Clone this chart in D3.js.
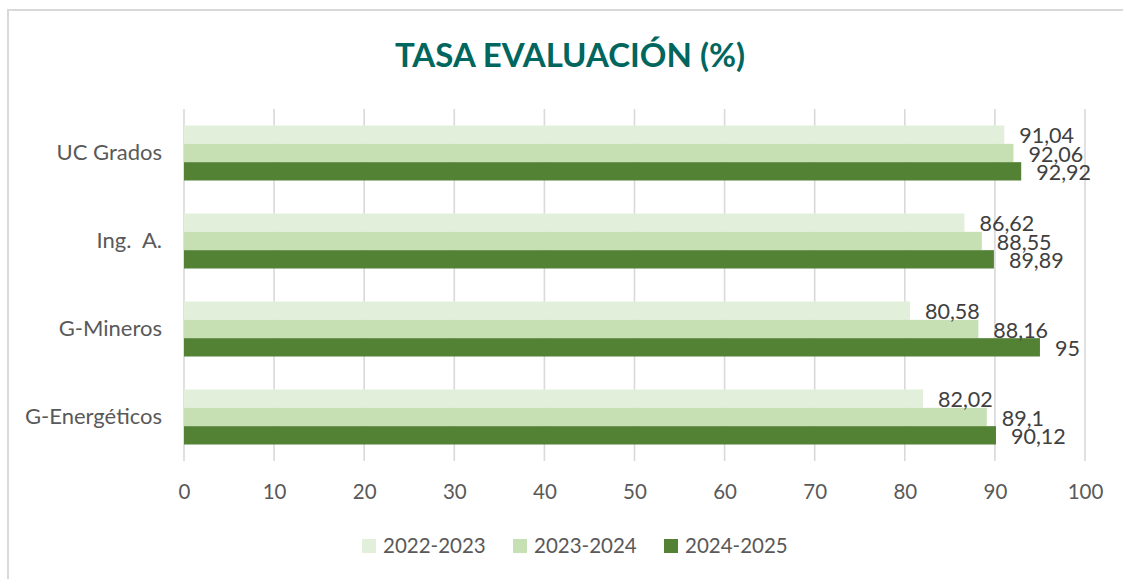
<!DOCTYPE html>
<html><head><meta charset="utf-8">
<script src="https://cdn.jsdelivr.net/npm/d3@7"></script>
<style>body{margin:0;background:#fff}svg{display:block}text{font-family:Lato,"Open Sans",sans-serif}</style>
</head><body><svg id="c" width="1123" height="579"></svg>
<script>
const categories = ["UC Grados", "Ing.  A.", "G-Mineros", "G-Energéticos"];
const seriesNames = ["2022-2023", "2023-2024", "2024-2025"];
const s2022 = [91.04, 86.62, 80.58, 82.02];
const s2023 = [92.06, 88.55, 88.16, 89.1];
const s2024 = [92.92, 89.89, 95, 90.12];
const xTicks = [0, 10, 20, 30, 40, 50, 60, 70, 80, 90, 100];
const colors = ["#E2EFDA", "#C6E0B4", "#548235"];
const titleText = "TASA EVALUACIÓN (%)";

const series = [s2022, s2023, s2024];
const svg = d3.select("#c");
const fmt = v => String(v).replace(".", ",");

svg.append("rect").attr("x", 8).attr("y", 10).attr("width", 1120).attr("height", 580)
  .attr("fill", "none").attr("stroke", "#d9d9d9").attr("stroke-width", 2);

svg.append("text").attr("x", 570).attr("y", 67).attr("text-anchor", "middle")
  .attr("font-size", 33).attr("font-weight", "bold").attr("fill", "#00665E").text(titleText);

const x = d3.scaleLinear().domain([0, 100]).range([184, 1085]);
const y0 = d3.scaleBand().domain(categories).range([109, 461]).paddingInner(0.375).paddingOuter(0.1875);
const y1 = d3.scaleBand().domain(seriesNames).range([0, y0.bandwidth()]);

// gridlines
svg.append("g").selectAll("line").data(xTicks).join("line")
  .attr("x1", d => x(d)).attr("x2", d => x(d)).attr("y1", 109).attr("y2", 461)
  .attr("stroke", "#d9d9d9").attr("stroke-width", 1.6);

// x axis labels
const xAxis = d3.axisBottom(x).tickValues(xTicks).tickSize(0).tickPadding(0);
const gx = svg.append("g").attr("transform", "translate(0,484)").call(xAxis);
gx.select(".domain").remove();
gx.selectAll("text").attr("font-size", 20.5).attr("fill", "#595959").attr("font-family", "Lato,'Open Sans',sans-serif");

// y axis labels
const yAxis = d3.axisLeft(y0).tickSize(0).tickPadding(0);
const gy = svg.append("g").attr("transform", "translate(162,0)").call(yAxis);
gy.select(".domain").remove();
gy.selectAll("text").attr("font-size", 22).attr("fill", "#595959")
  .attr("font-family", "Lato,'Open Sans',sans-serif").style("white-space", "pre");

// bars
const rows = [];
categories.forEach((c, i) => seriesNames.forEach((s, j) => rows.push({c, s, j, v: series[j][i]})));
svg.append("g").selectAll("rect").data(rows).join("rect")
  .attr("x", x(0)).attr("y", d => y0(d.c) + y1(d.s))
  .attr("width", d => x(d.v) - x(0)).attr("height", y1.bandwidth())
  .attr("fill", d => colors[d.j]);

svg.append("g").selectAll("text").data(rows).join("text")
  .attr("x", d => x(d.v) + 15).attr("y", d => y0(d.c) + y1(d.s) + y1.bandwidth() / 2 + 1)
  .attr("dy", "0.36em").attr("font-size", 21.5).attr("fill", "#404040").text(d => fmt(d.v));

// legend
const legX = [362, 513, 664];
const lg = svg.append("g").selectAll("g").data(seriesNames).join("g")
  .attr("transform", (d, i) => `translate(${legX[i]},539)`);
lg.append("rect").attr("width", 14).attr("height", 14).attr("fill", (d, i) => colors[i]);
lg.append("text").attr("x", 21).attr("y", 7).attr("dy", "0.36em").attr("font-size", 20.5)
  .attr("fill", "#595959").text(d => d);
</script></body></html>
